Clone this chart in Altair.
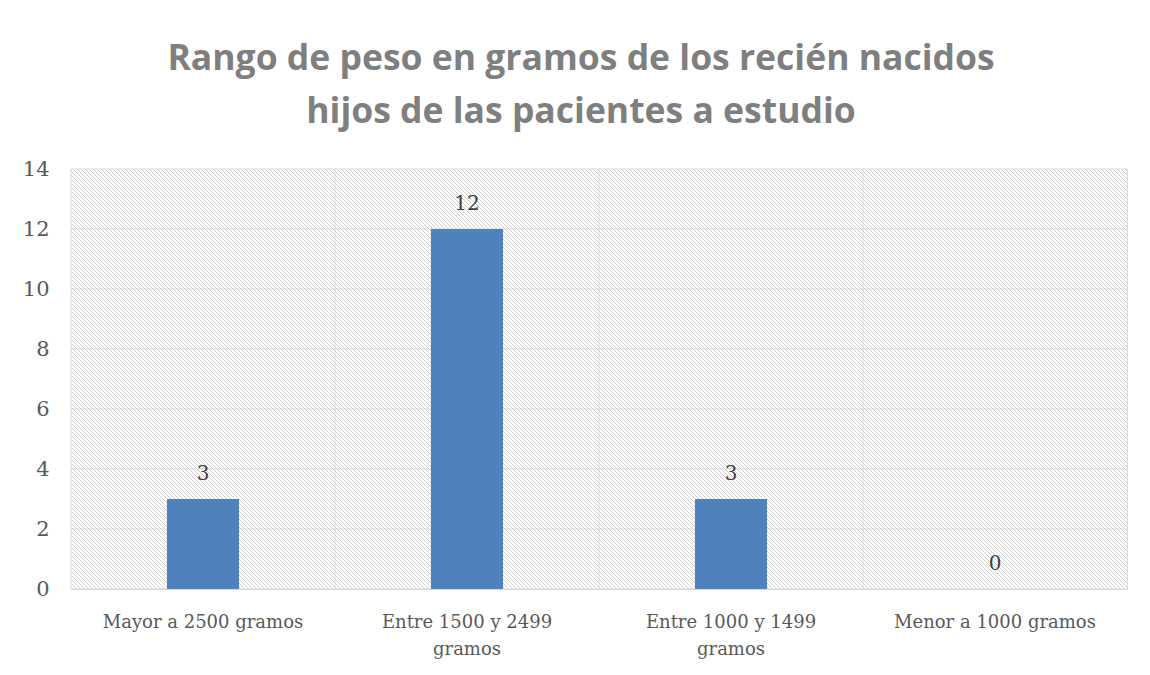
import altair as alt
import pandas as pd

categories = ["Mayor a 2500 gramos", "Entre 1500 y 2499 gramos",
              "Entre 1000 y 1499 gramos", "Menor a 1000 gramos"]
values = [3, 12, 3, 0]
y_ticks = [0, 2, 4, 6, 8, 10, 12, 14]
title_lines = ["Rango de peso en gramos de los recién nacidos",
               "hijos de las pacientes a estudio"]

df = pd.DataFrame({"cat": categories, "val": values})
df_ticks = pd.DataFrame({"t": y_ticks})

W, H = 1056, 420
SUB = 6  # background tiles per category band (for the hatch texture)

# background tiles: one per (category, sub-column, y interval)
tiles = pd.DataFrame([
    {"cat": c, "sub": s, "y0": y_ticks[j], "y1": y_ticks[j + 1]}
    for c in categories for s in range(SUB) for j in range(len(y_ticks) - 1)
])

# hatched texture (diagonal "\" stripes, 4px period) as a striped linear gradient
tw = W / len(categories) / SUB
th = H / (len(y_ticks) - 1)
r = th / tw
k = (1 + r) / (1 + r * r)
n_periods = int(round((tw + th) / 4.0))
G, Wc = "#d0d0d0", "#ffffff"
stops = []
for i in range(n_periods):
    for f, col in [(0.0, Wc), (0.3, Wc), (0.4, G), (0.6, G), (0.7, Wc), (1.0, Wc)]:
        stops.append({"offset": min((i + f) / n_periods, 1.0), "color": col})
hatch = {"gradient": "linear", "x1": 0, "y1": 1, "x2": k, "y2": 1 - k * r,
         "stops": stops}

label_expr = ("length(datum.label) > 20 ? "
              "split(replace(datum.label, ' gramos', '|gramos'), '|') : datum.label")

x_scale = alt.Scale(paddingInner=0, paddingOuter=0)
y_scale = alt.Scale(domain=[0, 14], nice=False)
x_axis = alt.Axis(labelAngle=0, grid=False, domain=False, ticks=False,
                  bandPosition=0.5, labelAlign="center", labelBaseline="top",
                  labelLimit=0, labelPadding=24, labelFont="DejaVu Serif",
                  labelFontSize=18, labelColor="#595959",
                  labelLineHeight=27, labelExpr=label_expr)
y_axis = alt.Axis(values=y_ticks, grid=False, domain=False, ticks=False,
                  labelPadding=22, labelFont="DejaVu Serif",
                  labelFontSize=21, labelColor="#595959")

background = alt.Chart(tiles).mark_rect(fill=hatch, strokeWidth=0).encode(
    x=alt.X("cat:N", sort=categories, scale=x_scale, axis=x_axis, title=None),
    xOffset=alt.XOffset("sub:O", scale=alt.Scale(paddingInner=0, paddingOuter=0)),
    y=alt.Y("y0:Q", scale=y_scale, axis=y_axis, title=None),
    y2="y1:Q")
hgrid = alt.Chart(df_ticks).mark_rule(color="#d9d9d9", strokeWidth=1).encode(
    y=alt.Y("t:Q", scale=y_scale, axis=y_axis, title=None))
vgrid = alt.Chart(df).mark_rule(color="#d9d9d9", strokeWidth=1).encode(
    x=alt.X("cat:N", sort=categories, scale=x_scale, axis=x_axis, title=None,
            bandPosition=0))
bars = alt.Chart(df).mark_bar(color="#4f81bd",
                              width=alt.RelativeBandSize(0.273)).encode(
    x=alt.X("cat:N", sort=categories, scale=x_scale, axis=x_axis, title=None),
    y=alt.Y("val:Q", scale=y_scale, axis=y_axis, title=None))
labels = alt.Chart(df).mark_text(dy=-25, baseline="middle", font="DejaVu Serif",
                                 fontSize=20, color="#404040").encode(
    x=alt.X("cat:N", sort=categories, scale=x_scale, axis=x_axis, title=None),
    y=alt.Y("val:Q", scale=y_scale, axis=y_axis, title=None),
    text="val:Q")

chart = (background + hgrid + vgrid + bars + labels).properties(
    width=W, height=H,
    autosize=alt.AutoSizeParams(type="none"),
    padding={"left": 63, "top": 161, "right": 15, "bottom": 78},
    title=alt.TitleParams(title_lines, font="Open Sans", fontSize=35.5,
                          fontWeight="bold", color="#7f7f7f", lineHeight=53,
                          anchor="middle", dx=-18, offset=28),
).configure_view(stroke="#d9d9d9", strokeWidth=1)

chart.save("out.html", embed_options={"renderer": "svg", "actions": False})
